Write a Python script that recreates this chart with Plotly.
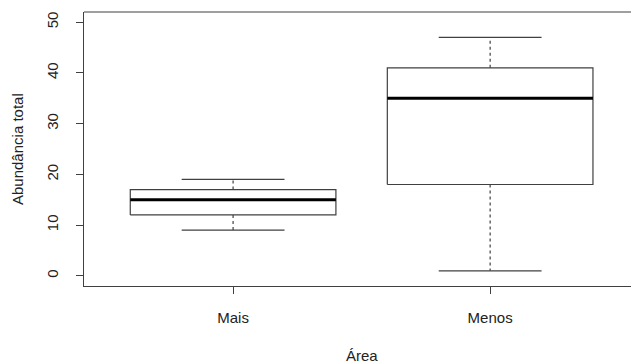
import plotly.graph_objects as go

categories = ["Mais", "Menos"]
lower_whisker = [9, 1]
q1 = [12, 18]
median = [15, 35]
q3 = [17, 41]
upper_whisker = [19, 47]
y_ticks = [0, 10, 20, 30, 40, 50]

BOX_W = 0.8
CAP_W = 0.4
LINE = "#404040"

fig = go.Figure()
for i, cat in enumerate(categories):
    x = i + 1
    l, r = x - BOX_W / 2, x + BOX_W / 2
    cl, cr = x - CAP_W / 2, x + CAP_W / 2
    fig.add_trace(go.Scatter(x=[l, r, r, l, l], y=[q1[i], q1[i], q3[i], q3[i], q1[i]],
                             mode="lines", line=dict(color=LINE, width=1.2),
                             hoverinfo="skip", showlegend=False))
    fig.add_trace(go.Scatter(x=[l, r], y=[median[i], median[i]], mode="lines",
                             line=dict(color="black", width=3), showlegend=False))
    fig.add_trace(go.Scatter(x=[x, x, None, x, x],
                             y=[q3[i], upper_whisker[i], None, q1[i], lower_whisker[i]],
                             mode="lines", line=dict(color=LINE, width=1.2, dash="3px,3px"),
                             showlegend=False))
    fig.add_trace(go.Scatter(x=[cl, cr, None, cl, cr],
                             y=[upper_whisker[i], upper_whisker[i], None, lower_whisker[i], lower_whisker[i]],
                             mode="lines", line=dict(color=LINE, width=1.2), showlegend=False))

font = dict(family="Liberation Sans, Arial, sans-serif", size=15, color="#222222")

fig.update_layout(
    width=631, height=363,
    margin=dict(l=84, r=0, t=12, b=77),
    plot_bgcolor="white", paper_bgcolor="white",
    font=font,
    showlegend=False,
    xaxis=dict(
        range=[0.42, 2.548],
        tickmode="array", tickvals=[1, 2], ticktext=categories,
        ticks="outside", ticklen=7, tickcolor=LINE, tickwidth=1,
        showgrid=False, zeroline=False,
        showline=True, linecolor=LINE, linewidth=1.2,
        automargin=False,
        ticklabelstandoff=11,
    ),
    yaxis=dict(
        range=[-2, 52],
        tickmode="array", tickvals=y_ticks,
        ticks="outside", ticklen=7, tickcolor=LINE, tickwidth=1,
        tickangle=-90,
        showgrid=False, zeroline=False,
        showline=True, linecolor=LINE, linewidth=1.2,
        automargin=False,
        ticklabelstandoff=12,
    ),
    annotations=[
        dict(text="Abundância total", xref="paper", yref="paper", x=0, y=0.5,
             xanchor="center", yanchor="middle", xshift=-67, textangle=-90,
             showarrow=False, font=font),
        dict(text="Área", xref="x", yref="paper", x=1.5, y=0,
             xanchor="center", yanchor="middle", yshift=-69,
             showarrow=False, font=font),
    ],
)
fig.add_shape(type="line", xref="paper", yref="paper", x0=0, x1=1, y0=1, y1=1,
              line=dict(color=LINE, width=1.2))

fig.write_html("out.html", config={"displayModeBar": False},
               post_script="document.body.style.margin='0';document.body.style.overflow='hidden';")
